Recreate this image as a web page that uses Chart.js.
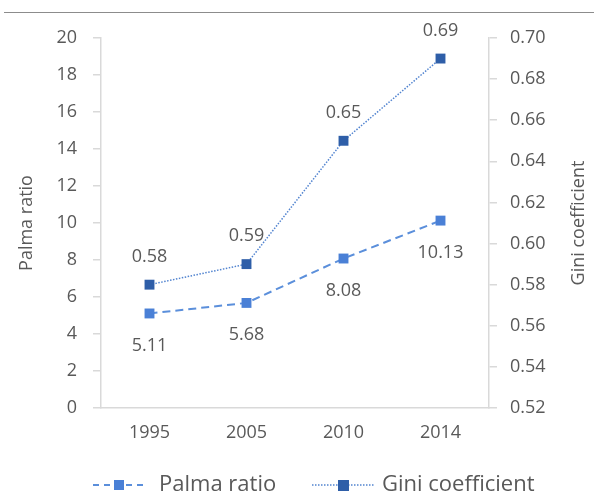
<!DOCTYPE html>
<html>
<head>
<meta charset="utf-8">
<script src="https://cdn.jsdelivr.net/npm/chart.js@4"></script>
<style>
  html, body { margin: 0; padding: 0; background: #fff; }
  #wrap { position: relative; width: 594px; height: 498px; }
  #topline { position: absolute; left: 4px; right: 0; top: 12px; border-top: 1px solid #8c8c8c; }
</style>
</head>
<body>
<div id="wrap">
  <div id="topline"></div>
  <canvas id="chart" width="594" height="498"></canvas>
</div>
<script>
// data
const years = ['1995', '2005', '2010', '2014'];
const palma = [5.11, 5.68, 8.08, 10.13];
const gini = [0.58, 0.59, 0.65, 0.69];
const palmaTicks = [0, 2, 4, 6, 8, 10, 12, 14, 16, 18, 20];
const giniTicks = [0.52, 0.54, 0.56, 0.58, 0.60, 0.62, 0.64, 0.66, 0.68, 0.70];

const FONT = '"Open Sans", "Noto Sans", sans-serif';
const TEXT = '#595959';
const AXIS = '#d9d9d9';
const PALMA_COLOR = '#4a80d6';
const PALMA_LINE = '#5b8fdb';
const GINI_COLOR = '#2e5ea8';
const GINI_LINE = '#5284d0';

// value labels: Palma below, Gini above
const valueLabels = {
  id: 'valueLabels',
  afterDatasetsDraw(chart) {
    const ctx = chart.ctx;
    ctx.save();
    ctx.font = '18px ' + FONT;
    ctx.fillStyle = TEXT;
    ctx.textAlign = 'center';
    ctx.textBaseline = 'middle';
    chart.getDatasetMeta(0).data.forEach((pt, i) => {
      ctx.fillText(palma[i].toFixed(2), pt.x, pt.y + 32);
    });
    chart.getDatasetMeta(1).data.forEach((pt, i) => {
      ctx.fillText(gini[i].toFixed(2), pt.x, pt.y - 28);
    });
    ctx.restore();
  }
};

// right axis title reads bottom-to-top, plus custom legend
const extras = {
  id: 'extras',
  afterDraw(chart) {
    const ctx = chart.ctx;
    const area = chart.chartArea;
    ctx.save();
    ctx.font = '18px ' + FONT;
    ctx.fillStyle = TEXT;
    ctx.textBaseline = 'middle';
    ctx.textAlign = 'center';
    ctx.translate(579, (area.top + area.bottom) / 2);
    ctx.rotate(-Math.PI / 2);
    ctx.fillText('Gini coefficient', 0, 0);
    ctx.restore();

    // legend
    ctx.save();
    const y = 485;
    ctx.font = '22px ' + FONT;
    ctx.textBaseline = 'middle';
    ctx.textAlign = 'left';
    // Palma
    ctx.strokeStyle = PALMA_LINE;
    ctx.lineWidth = 2;
    ctx.setLineDash([6, 5]);
    ctx.beginPath(); ctx.moveTo(93, y); ctx.lineTo(145, y); ctx.stroke();
    ctx.setLineDash([]);
    ctx.fillStyle = PALMA_COLOR;
    ctx.fillRect(114, y - 5, 10, 10);
    ctx.fillStyle = TEXT;
    ctx.fillText('Palma ratio', 159, y);
    // Gini
    ctx.strokeStyle = GINI_LINE;
    ctx.lineWidth = 1.5;
    ctx.setLineDash([1.5, 1.5]);
    ctx.beginPath(); ctx.moveTo(312, y); ctx.lineTo(375, y); ctx.stroke();
    ctx.setLineDash([]);
    ctx.fillStyle = GINI_COLOR;
    ctx.fillRect(338, y - 5, 11, 11);
    ctx.fillStyle = TEXT;
    ctx.fillText('Gini coefficient', 382, y);
    ctx.restore();
  }
};

new Chart(document.getElementById('chart'), {
  type: 'line',
  data: {
    labels: years,
    datasets: [
      {
        label: 'Palma ratio',
        data: palma,
        yAxisID: 'y',
        borderColor: PALMA_LINE,
        borderWidth: 2,
        borderDash: [8, 5],
        pointStyle: 'rect',
        pointRadius: 7,
        pointBackgroundColor: PALMA_COLOR,
        pointBorderColor: PALMA_COLOR,
        pointBorderWidth: 0,
        tension: 0
      },
      {
        label: 'Gini coefficient',
        data: gini,
        yAxisID: 'y1',
        borderColor: GINI_LINE,
        borderWidth: 1.5,
        borderDash: [1.5, 1.5],
        pointStyle: 'rect',
        pointRadius: 7,
        pointBackgroundColor: GINI_COLOR,
        pointBorderColor: GINI_COLOR,
        pointBorderWidth: 0,
        tension: 0
      }
    ]
  },
  options: {
    responsive: false,
    animation: false,
    layout: { padding: { top: 38, bottom: 0, left: 0, right: 0 } },
    plugins: {
      legend: { display: false },
      tooltip: { enabled: false }
    },
    scales: {
      x: {
        offset: true,
        grid: { display: false, drawTicks: false },
        border: { display: true, color: AXIS, width: 1.5 },
        ticks: { color: TEXT, font: { family: FONT, size: 18 }, padding: 14 },
        afterFit(scale) { scale.height = 90; }
      },
      y: {
        position: 'left',
        min: 0,
        max: 20,
        afterBuildTicks(scale) { scale.ticks = palmaTicks.map(v => ({ value: v })); },
        grid: { drawOnChartArea: false, drawTicks: true, tickLength: 8, color: AXIS, lineWidth: 1.5 },
        border: { display: true, color: AXIS, width: 1.5 },
        ticks: { color: TEXT, font: { family: FONT, size: 18 }, padding: 16 },
        title: { display: true, text: 'Palma ratio', color: TEXT, font: { family: FONT, size: 18 }, padding: { top: 16, bottom: 0 } },
        afterFit(scale) { scale.width = 101; }
      },
      y1: {
        position: 'right',
        min: 0.52,
        max: 0.70,
        afterBuildTicks(scale) { scale.ticks = giniTicks.map(v => ({ value: v })); },
        grid: { drawOnChartArea: false, drawTicks: true, tickLength: 8, color: AXIS, lineWidth: 1.5 },
        border: { display: true, color: AXIS, width: 1.5 },
        ticks: {
          color: TEXT, font: { family: FONT, size: 18 }, padding: 13,
          callback: v => Number(v).toFixed(2)
        },
        afterFit(scale) { scale.width = 105; }
      }
    }
  },
  plugins: [valueLabels, extras]
});
</script>
</body>
</html>
